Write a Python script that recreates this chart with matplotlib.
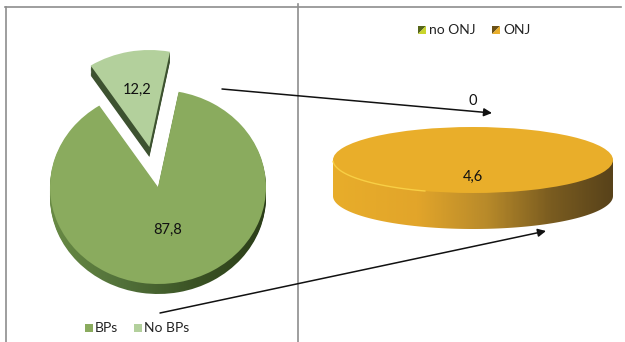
import numpy as np
import matplotlib
matplotlib.use("Agg")
import matplotlib.pyplot as plt
from matplotlib.colors import LinearSegmentedColormap
from matplotlib.patches import Polygon, Rectangle

# ---------------- data ----------------
bp_categories = ["BPs", "No BPs"]
bp_values = [87.8, 12.2]
onj_categories = ["no ONJ", "ONJ"]
onj_values = [0.0, 4.6]

plt.rcParams['font.family'] = ['Lato', 'DejaVu Sans']

W, H = 625, 342
fig = plt.figure(figsize=(6.25, 3.42), dpi=100)

# overlay axes in pixel coordinates
ov = fig.add_axes([0, 0, 1, 1], zorder=5)
ov.set_xlim(0, W)
ov.set_ylim(H, 0)
ov.axis('off')
ov.patch.set_alpha(0)


def px_axes(cx, cy, halfw, halfh):
    ax = fig.add_axes([(cx - halfw) / W, 1 - (cy + halfh) / H, 2 * halfw / W, 2 * halfh / H])
    return ax


def fix_limits(ax, rx, ry, halfw, halfh):
    ax.set_aspect('auto')
    ax.set_xlim(-halfw / rx, halfw / rx)
    ax.set_ylim(-halfh / ry, halfh / ry)
    ax.axis('off')


def fmt(v):
    s = f"{v:.1f}".replace(".", ",")
    if s.endswith(",0"):
        s = s[:-2]
    return s

# ---------------- left pie ----------------
lcx, lcy, lrx, lry = 158, 187, 108, 97
lhw, lhh = 140, 150
axL = px_axes(lcx, lcy, lhw, lhh)
depthL = 10 / lry
explodeL = [0.0, 0.42]
top_cols = ['#8aab5e', '#b3d09c']
side_cmap = LinearSegmentedColormap.from_list('gside', ['#6a8c45', '#52713a', '#3a5224', '#2a3c18'])
grad = np.tile(np.linspace(0, 1, 200), (10, 1))
nlay = 8
for i in range(nlay, 0, -1):
    off = -depthL * i / nlay
    ws, _ = axL.pie(bp_values, startangle=79, counterclock=False, explode=explodeL,
                    center=(0, off), colors=['none', 'none'],
                    wedgeprops=dict(linewidth=0))
    im = axL.imshow(grad, extent=[-1.05, 1.05, -1.3, 1.3], cmap=side_cmap, aspect='auto',
                    zorder=1, interpolation='bilinear')
    im.set_clip_path(ws[0])
    ws[1].set_facecolor('#3d5230')
    ws[1].set_zorder(1)
wedgesL, _ = axL.pie(bp_values, startangle=79, counterclock=False, explode=explodeL,
                     colors=top_cols, wedgeprops=dict(linewidth=0))
for w in wedgesL:
    w.set_zorder(3)
label_r = [0.45, 0.6]
for w, v, r in zip(wedgesL, bp_values, label_r):
    ang = np.deg2rad((w.theta1 + w.theta2) / 2)
    cx, cy = w.center
    axL.text(cx + r * np.cos(ang), cy + r * np.sin(ang), fmt(v), ha='center', va='center',
             fontsize=10.5, color='#111111', zorder=6)
fix_limits(axL, lrx, lry, lhw, lhh)

# ---------------- right cylinder pie ----------------
rcx, rcy, rrx, rry = 473, 160, 140, 33
rhw, rhh = 150, 80
axR = px_axes(rcx, rcy, rhw, rhh)
depthR = 36 / rry
t = np.linspace(np.pi, 2 * np.pi, 200)
side_pts = np.column_stack([np.cos(t), np.sin(t) - depthR])
side_pts = np.vstack([[-1, 0], side_pts, [1, 0]])
side = Polygon(side_pts, closed=True, facecolor='none', edgecolor='none')
axR.add_patch(side)
o_cmap = LinearSegmentedColormap.from_list('oside', [(0, '#e8ad2a'), (0.3, '#e2a52a'),
                                                     (0.55, '#b88a2a'), (0.78, '#7a5c20'),
                                                     (1.0, '#58421a')])
gradR = np.tile(np.linspace(0, 1, 300), (10, 1))
imR = axR.imshow(gradR, extent=[-1.0, 1.0, -3, 1], cmap=o_cmap, aspect='auto', zorder=1,
                 interpolation='bilinear')
imR.set_clip_path(side)
wedgesR, _ = axR.pie(onj_values, startangle=90, counterclock=False,
                     colors=['#c8d22e', '#e9ae2a'], wedgeprops=dict(linewidth=0))
for w in wedgesR:
    w.set_zorder(3)
ta = np.linspace(np.deg2rad(182), np.deg2rad(250), 80)
axR.plot(np.cos(ta), np.sin(ta), color='#f8cf45', lw=1.0, zorder=4,
         solid_capstyle='round')
label_rR = [1.8, 0.5]
for w, v, r in zip(wedgesR, onj_values, label_rR):
    ang = np.deg2rad((w.theta1 + w.theta2) / 2)
    if w.theta1 == w.theta2:
        ang = np.deg2rad(w.theta1)
    axR.text(r * np.cos(ang), r * np.sin(ang), fmt(v), ha='center', va='center',
             fontsize=10.5, color='#111111', zorder=6)
fix_limits(axR, rrx, rry, rhw, rhh)

# ---------------- frame lines ----------------
gray = '#8e8e8e'
ov.plot([5, 621], [7, 7], color=gray, lw=1.2)
ov.plot([6, 6], [7, 342], color=gray, lw=1.2)
ov.plot([298, 298], [4, 342], color=gray, lw=1.2)

# ---------------- arrows ----------------
arrow = dict(arrowstyle='-|>', mutation_scale=12, lw=1.1, color='#111111', shrinkA=0, shrinkB=0)
ov.annotate('', xy=(492, 113), xytext=(222, 89), arrowprops=arrow)
ov.annotate('', xy=(546, 231), xytext=(160, 313), arrowprops=arrow)

# ---------------- legends ----------------
lx = [85, 134]
for x0, lab, c in zip(lx, bp_categories, top_cols):
    ov.add_patch(Rectangle((x0, 324), 7.5, 7.5, facecolor=c, edgecolor='none'))
    ov.text(x0 + 10, 328.5, lab, fontsize=10, va='center', ha='left', color='#222222')

rx_ = [418, 492]
rlight = ['#c9d52c', '#e9ae2a']
rdark = ['#56661a', '#6a5017']
for x0, lab, cl, cd in zip(rx_, onj_categories, rlight, rdark):
    ov.add_patch(Polygon([[x0, 26], [x0 + 8, 26], [x0, 34]], closed=True, facecolor=cd, edgecolor='none'))
    ov.add_patch(Polygon([[x0 + 8, 26], [x0 + 8, 34], [x0, 34]], closed=True, facecolor=cl, edgecolor='none'))
    ov.text(x0 + 11, 30, lab, fontsize=10, va='center', ha='left', color='#222222')

fig.savefig('out.png', dpi=100)
